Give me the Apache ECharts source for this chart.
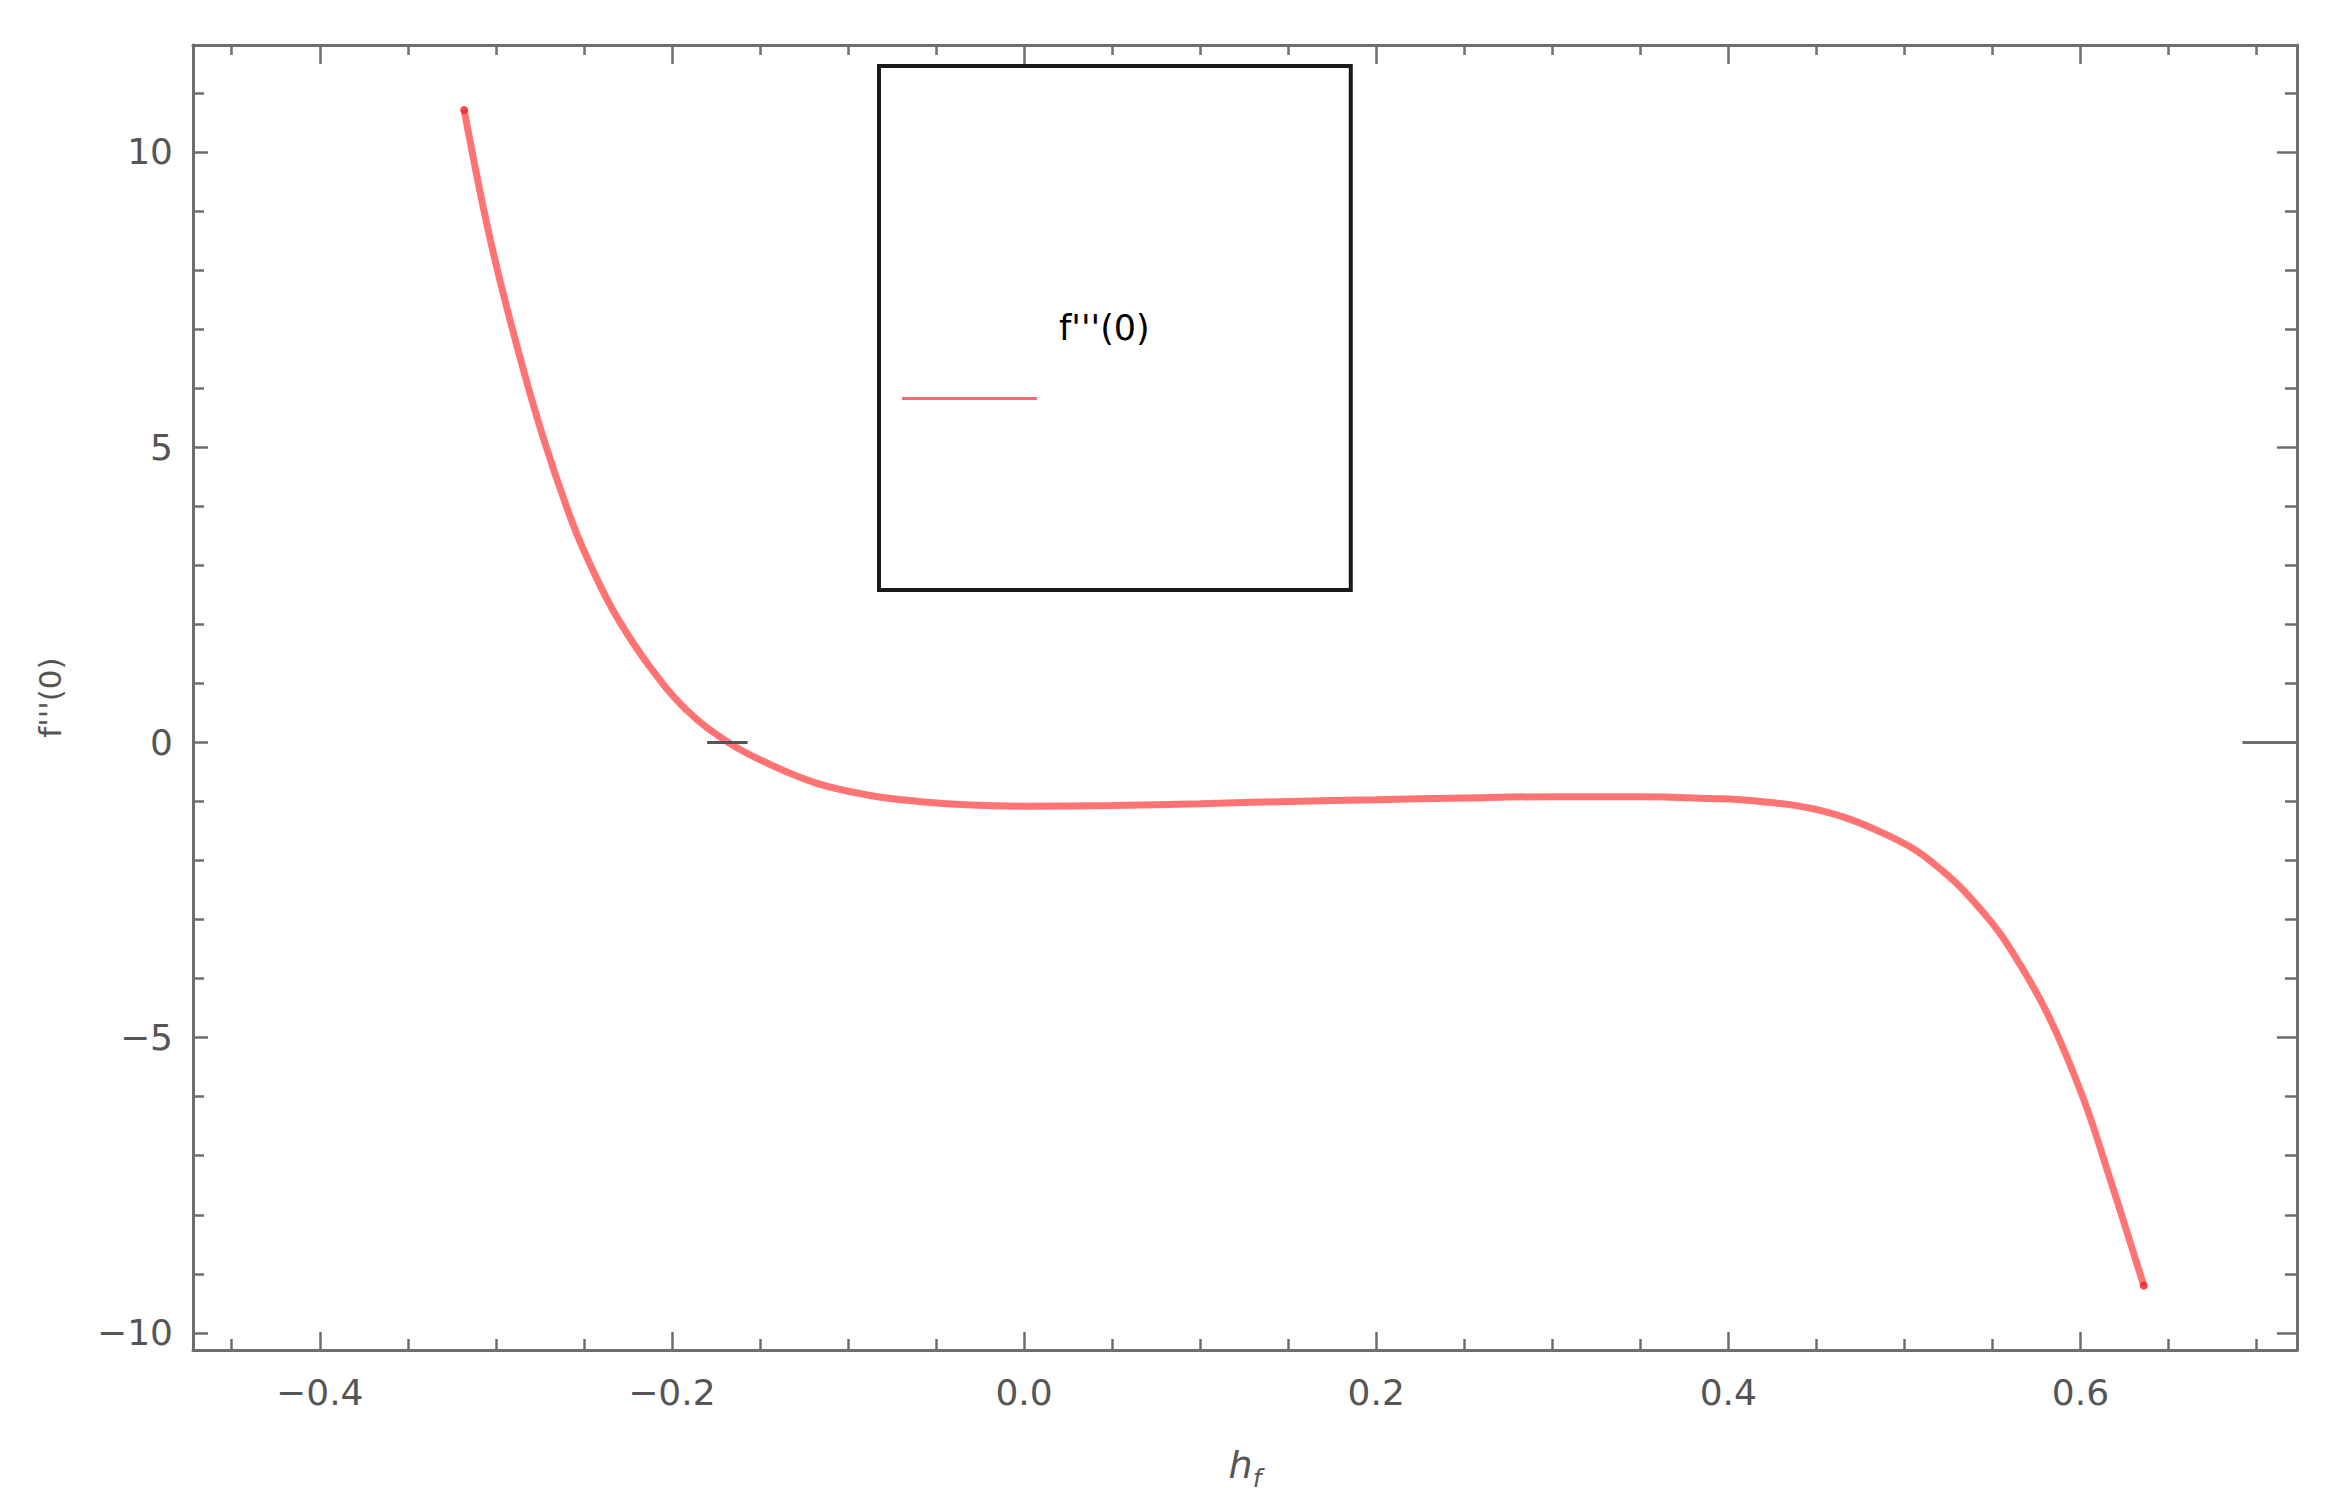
<!DOCTYPE html>
<html>
<head>
<meta charset="utf-8">
<title>f'''(0) vs h_f</title>
<script src="https://cdn.jsdelivr.net/npm/echarts@6/dist/echarts.min.js"></script>
<style>
    html, body { margin: 0; padding: 0; background: #ffffff; }
    #chart { width: 2327px; height: 1507px; }
</style>
</head>
<body>
<div id="chart"></div>
<script>
// values
const hfValues = [
    -0.318, -0.3044, -0.2905, -0.2735, -0.256, -0.2437, -0.2314, -0.2125, -0.1917, -0.168,
    -0.146, -0.118, -0.089, -0.06, -0.03, 0.0, 0.05, 0.1, 0.15, 0.2,
    0.25, 0.3, 0.35, 0.39, 0.4125, 0.4504, 0.4882, 0.5166, 0.5451, 0.564,
    0.583, 0.6019, 0.617, 0.6265, 0.636,
]
const fppp0Values = [
    10.71, 8.68, 6.99, 5.2, 3.68, 2.84, 2.13, 1.28, 0.55, 0.0,
    -0.35, -0.69, -0.89, -1.0, -1.06, -1.08, -1.07, -1.04, -1.0, -0.97,
    -0.94, -0.92, -0.92, -0.95, -0.985, -1.14, -1.54, -2.05, -2.89, -3.68,
    -4.7, -6.05, -7.41, -8.3, -9.2,
]
const xMajorTicks = [-0.4, -0.2, 0.0, 0.2, 0.4, 0.6]
const xMinorTicks = [-0.45, -0.35, -0.3, -0.25, -0.15, -0.1, -0.05, 0.05, 0.1, 0.15, 0.25, 0.3, 0.35, 0.45, 0.5, 0.55, 0.65, 0.7]
const yMajorTicks = [-10, -5, 0, 5, 10]
const yMinorTicks = [-9, -8, -7, -6, -4, -3, -2, -1, 1, 2, 3, 4, 6, 7, 8, 9, 11]
// the two short black dashes sitting on y = 0
const zeroMarkLeft = [-0.18, -0.157]
const zeroMarkRight = [0.692, 0.723]

const xRange = [-0.472, 0.723]
const yRange = [-10.29, 11.81]
const seriesName = "f'''(0)"

const frameColor = '#6e6e6e',
    labelColor = '#555555',
    fontFamily = '"DejaVu Sans", Verdana, sans-serif'

function minusSign(v, digits) {
    let s = digits ? v.toFixed(digits) : String(v)
    return s.replace('-', '\u2212')
}

function makeXAxis(position, ticks, tickLen, withLabels) {
    return {
        type: 'value',
        position: position,
        min: xRange[0],
        max: xRange[1],
        axisLine: { show: true, onZero: false, lineStyle: { color: frameColor, width: 3 } },
        axisTick: {
            show: true,
            inside: true,
            length: tickLen,
            customValues: ticks,
            lineStyle: { color: frameColor, width: 2.5 },
        },
        axisLabel: {
            show: withLabels,
            customValues: xMajorTicks,
            margin: 24,
            fontSize: 36,
            fontFamily: fontFamily,
            color: labelColor,
            formatter: (v) => minusSign(v, 1),
        },
        splitLine: { show: false },
    }
}

function makeYAxis(position, ticks, tickLen, withLabels) {
    return {
        type: 'value',
        position: position,
        min: yRange[0],
        max: yRange[1],
        axisLine: { show: true, onZero: false, lineStyle: { color: frameColor, width: 3 } },
        axisTick: {
            show: true,
            inside: true,
            length: tickLen,
            customValues: ticks,
            lineStyle: { color: frameColor, width: 2.5 },
        },
        axisLabel: {
            show: withLabels,
            customValues: yMajorTicks,
            margin: 20,
            fontSize: 36,
            fontFamily: fontFamily,
            color: labelColor,
            formatter: (v) => minusSign(v),
        },
        splitLine: { show: false },
    }
}

function paintChart(dom) {
    let myChart = echarts.init(dom, null, { renderer: 'svg' })
    let option
    const curve = hfValues.map((x, i) => [x, fppp0Values[i]])
    const ends = [curve[0], curve[curve.length - 1]]

    let xBottom = makeXAxis('bottom', xMajorTicks, 18, true)
    xBottom.name = '{h|h}{f|f}'
    xBottom.nameLocation = 'middle'
    xBottom.nameGap = 89
    xBottom.nameTextStyle = {
        rich: {
            h: { fontFamily: fontFamily, fontStyle: 'italic', fontSize: 38, color: labelColor, lineHeight: 52 },
            f: { fontFamily: fontFamily, fontStyle: 'italic', fontSize: 25, color: labelColor, lineHeight: 27, verticalAlign: 'bottom' },
        },
    }
    let yLeft = makeYAxis('left', yMajorTicks, 15, true)
    yLeft.name = seriesName
    yLeft.nameLocation = 'middle'
    yLeft.nameGap = 128
    yLeft.nameTextStyle = { fontFamily: fontFamily, fontSize: 31, color: labelColor }

    let xBottomMinor = makeXAxis('bottom', xMinorTicks, 11, false)
    xBottomMinor.axisLine.show = false
    let xTop = makeXAxis('top', xMajorTicks, 19, false)
    let xTopMinor = makeXAxis('top', xMinorTicks, 10, false)
    xTopMinor.axisLine.show = false
    let yLeftMinor = makeYAxis('left', yMinorTicks, 11, false)
    yLeftMinor.axisLine.show = false
    let yRight = makeYAxis('right', yMajorTicks, 20, false)
    let yRightMinor = makeYAxis('right', yMinorTicks, 12, false)
    yRightMinor.axisLine.show = false

    option = {
        backgroundColor: '#ffffff',
        animation: false,
        grid: { left: 193, right: 30, top: 45, bottom: 157, outerBoundsMode: 'none' },
        legend: {
            left: 879,
            top: 66,
            orient: 'vertical',
            padding: [244, 201, 103, 23],
            borderColor: '#1a1a1a',
            borderWidth: 4,
            borderRadius: 0,
            icon: 'rect',
            itemWidth: 135,
            itemHeight: 3,
            formatter: '{t|{name}}',
            textStyle: {
                rich: {
                    t: {
                        fontFamily: fontFamily,
                        fontSize: 35,
                        color: '#000000',
                        lineHeight: 40,
                        padding: [0, 0, 142, 17],
                    },
                },
            },
            data: [seriesName],
        },
        xAxis: [xBottom, xBottomMinor, xTop, xTopMinor],
        yAxis: [yLeft, yLeftMinor, yRight, yRightMinor],
        series: [
            {
                name: seriesName,
                type: 'line',
                xAxisIndex: 0,
                yAxisIndex: 0,
                smooth: 0.4,
                symbol: 'none',
                lineStyle: { color: '#ff6b6b', width: 7, opacity: 0.95 },
                itemStyle: { color: '#ff6b6b' },
                data: curve,
                z: 3,
            },
            {
                name: 'ends',
                type: 'scatter',
                symbolSize: 8,
                itemStyle: { color: '#ff1a1a' },
                data: ends,
                z: 4,
            },
            {
                name: 'zero-left',
                type: 'line',
                symbol: 'none',
                lineStyle: { color: '#555555', width: 3 },
                data: zeroMarkLeft.map((x) => [x, 0]),
                z: 5,
            },
            {
                name: 'zero-right',
                type: 'line',
                symbol: 'none',
                lineStyle: { color: frameColor, width: 3 },
                data: zeroMarkRight.map((x) => [x, 0]),
                z: 5,
            },
        ],
    }
    myChart.setOption(option)
}

paintChart(document.querySelector('#chart'))
</script>
</body>
</html>
